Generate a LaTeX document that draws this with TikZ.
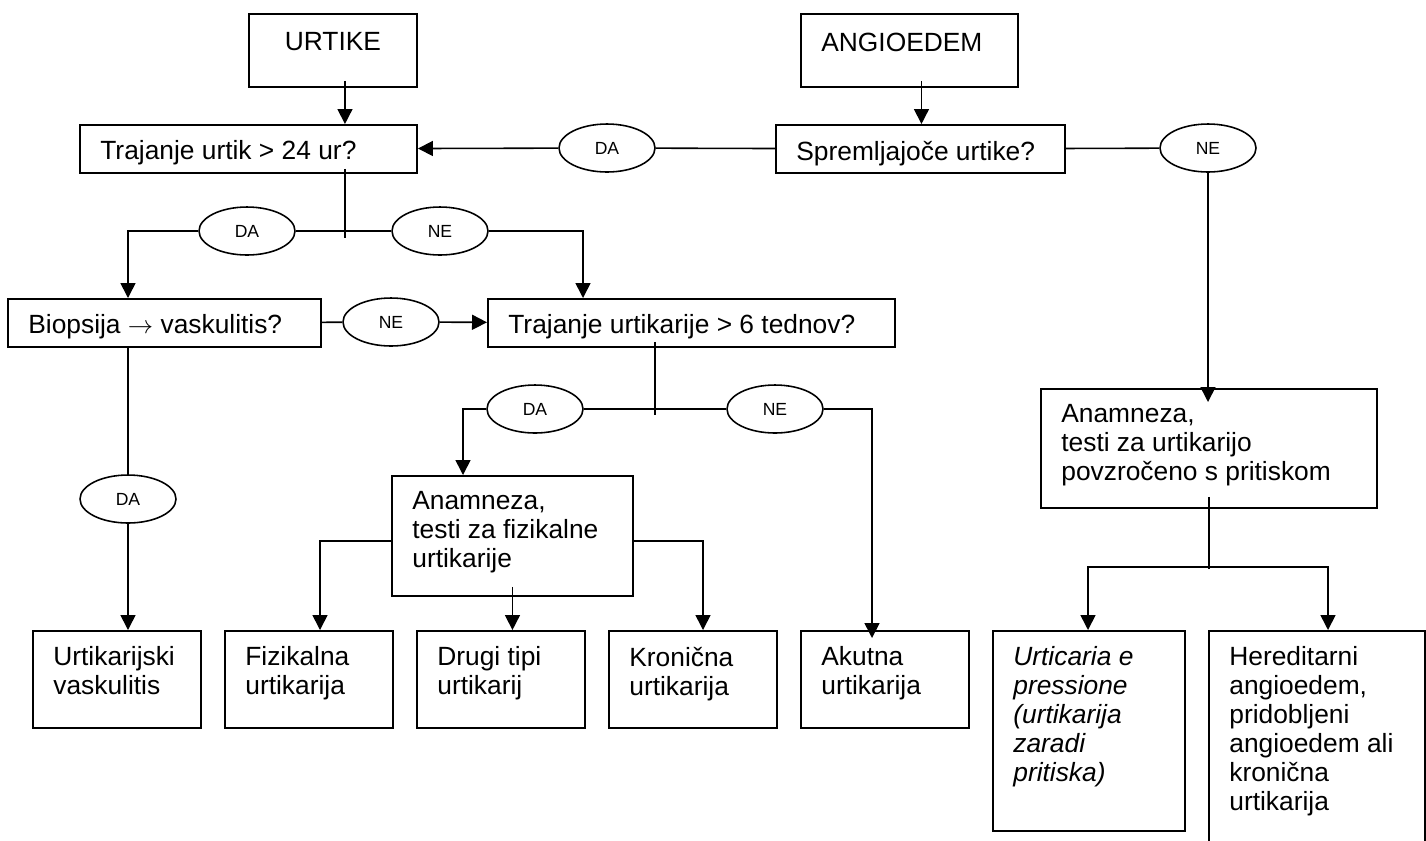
\documentclass[tikz,border=0pt]{standalone}
\usepackage{fontspec}
\setmainfont{Liberation Sans}
\usetikzlibrary{shapes.geometric,arrows.meta,calc}

\tikzset{
	box/.style 2 args={draw, line width=1.1pt, anchor=north west, inner sep=0pt,
		minimum width=#1*0.02cm, minimum height=#2*0.02cm},
	txt/.style={align=left, inner sep=0pt, font=\fontsize{15}{16.5}\selectfont},
	intext/.style={txt, anchor=north west, xshift=0.42cm, yshift=-0.33cm},
	choice/.style={ellipse, draw, line width=0.9pt, minimum width=1.92cm, minimum height=0.96cm,
		inner sep=0pt, font=\fontsize{10}{12}\selectfont},
	link/.style={line width=0.9pt},
	arrow/.style={link, -{Triangle[length=0.3cm, width=0.3cm]}}
}

\begin{document}
\begin{tikzpicture}[x=0.02cm, y=-0.02cm]
	\useasboundingbox (0,0) rectangle (1426,840);

	\node[box={168}{73}, label={[txt, anchor=north, yshift=-0.38cm]north:URTIKE}] (urt) at (248,13) {};
	\node[box={217}{73}, label={[intext, yshift=-0.06cm]north west:ANGIOEDEM}] (ang) at (800,13) {};
	\node[box={337}{48}, label={[intext]north west:{Trajanje urtik > 24 ur?}}] (dur) at (79,124) {};
	\node[box={289}{48}, label={[intext]north west:{Spremljajoče urtike?}}] (spr) at (775,124) {};
	\node[box={313}{48}, label={[intext]north west:{Biopsija $\rightarrow$ vaskulitis?}}] (bio) at (7,298) {};
	\node[box={407}{48}, label={[intext]north west:{Trajanje urtikarije > 6 tednov?}}] (dur6) at (487,298) {};
	\node[box={241}{120}, label={[intext]north west:{Anamneza,\\testi za fizikalne\\urtikarije}}] (anf) at (391,475) {};
	\node[box={336}{119}, label={[intext]north west:{Anamneza,\\testi za urtikarijo\\povzročeno s pritiskom}}] (anp) at (1040,388) {};

	\node[box={168}{97}, label={[intext]north west:{Urtikarijski\\vaskulitis}}] (vas) at (32,630) {};
	\node[box={168}{97}, label={[intext]north west:{Fizikalna\\urtikarija}}] (fiz) at (224,630) {};
	\node[box={168}{97}, label={[intext]north west:{Drugi tipi\\urtikarij}}] (dru) at (416,630) {};
	\node[box={168}{97}, label={[intext]north west:{Kronična\\urtikarija}}] (kro) at (608,630) {};
	\node[box={168}{97}, label={[intext]north west:{Akutna\\urtikarija}}] (aku) at (800,630) {};
	\node[box={192}{200}, label={[intext, font=\fontsize{15}{16.5}\selectfont\itshape]north west:{Urticaria e\\pressione\\(urtikarija\\zaradi\\pritiska)}}] (pre) at (992,630) {};
	\node[box={216}{240}, label={[intext]north west:{Hereditarni\\angioedem,\\pridobljeni\\angioedem ali\\kronična\\urtikarija}}] (her) at (1208,630) {};

	\node[choice] (e1) at (607,148) {DA};
	\node[choice] (e2) at (1208,148) {NE};
	\node[choice] (e3) at (247,231) {DA};
	\node[choice] (e4) at (440,231) {NE};
	\node[choice] (e5) at (391,322) {NE};
	\node[choice] (e6) at (535,409) {DA};
	\node[choice] (e7) at (775,409) {NE};
	\node[choice] (e8) at (128,499) {DA};

	\coordinate (u1) at ($(urt.south)+(12,0)$);
	\coordinate (a1) at ($(ang.south)+(12,0)$);
	\coordinate (u2) at ($(dur6.south west)+(168,0)$);

	\draw[arrow] ($(u1)+(0,-7)$) -- (u1 |- dur.north);
	\draw[arrow] ($(a1)+(0,-7)$) -- (a1 |- spr.north);
	\draw[link] (spr) -- (e1);
	\draw[arrow] (e1) -- (dur);
	\draw[link] (spr) -- (e2);
	\draw[arrow] (e2) -- ($(e2 |- anp.north)+(0,14)$);

	\draw[link] ($(u1 |- dur.south)+(0,-5)$) -- ($(u1 |- e3)+(0,7)$);
	\draw[arrow] (e3) -| (e8 |- bio.north);
	\draw[link] (e3) -- (e4);
	\draw[arrow] (e4) -| ($(dur6.north west)+(96,0)$);

	\draw[link] (bio) -- (e5);
	\draw[arrow] (e5) -- (dur6);
	\draw[link] (e8 |- bio.south) -- (e8);
	\draw[arrow] (e8) -- (e8 |- vas.north);

	\draw[link] ($(u2)+(0,-6)$) -- ($(u2 |- e6)+(0,6)$);
	\draw[arrow] (e6) -| ($(anf.north west)+(72,0)$);
	\draw[link] (e6) -- (e7);
	\draw[arrow] (e7) -| ($(aku.north west)+(72,8)$);

	\draw[arrow] ($(anf.north west)+(0,66)$) -| ($(fiz.north west)+(96,0)$);
	\draw[arrow] ($(anf.north east)+(0,66)$) -| ($(kro.north west)+(95,0)$);
	\draw[arrow] ($(anf.south)+(0,-10)$) -- (anf.south |- dru.north);

	\draw[link] ($(anp.south)+(0,-12)$) -- ($(anp.south)+(0,60)$);
	\draw[arrow] ($(anp.south)+(0,58)$) -| ($(pre.north west)+(96,0)$);
	\draw[arrow] ($(anp.south)+(0,58)$) -| ($(her.north west)+(120,0)$);
\end{tikzpicture}
\end{document}
